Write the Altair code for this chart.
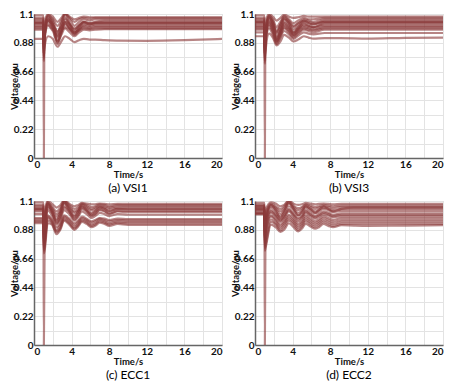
import altair as alt
import pandas as pd

# ---------------- data: time grids and curves ----------------
T_a = [0, 1.0, 1.05, 1.1, 1.5, 2.0, 2.5, 2.9, 3.3, 3.8, 4.3, 4.8, 5.3, 5.9, 6.5, 7.5, 9, 12, 16, 20]
curves_a = [
    [1.03, 1.03, 0.00, 0.97, 1.08, 1.02, 0.95, 1.02, 1.09, 1.03, 0.98, 1.02, 1.04, 1.02, 1.03, 1.03, 1.03, 1.03, 1.03, 1.03],
    [0.91, 0.91, 0.78, 0.84, 0.93, 0.91, 0.85, 0.89, 0.93, 0.91, 0.885, 0.90, 0.91, 0.905, 0.905, 0.90, 0.897, 0.895, 0.90, 0.91],
    [1.06, 1.06, 0.82, 0.95, 1.09, 1.05, 0.96, 1.03, 1.10, 1.06, 1.01, 1.04, 1.06, 1.05, 1.06, 1.06, 1.06, 1.06, 1.06, 1.06],
    [1.05, 1.05, 0.76, 0.90, 1.07, 1.03, 0.88, 0.97, 1.07, 1.02, 0.95, 1.00, 1.04, 1.03, 1.04, 1.05, 1.05, 1.05, 1.05, 1.05],
    [1.04, 1.04, 0.80, 0.93, 1.06, 1.02, 0.92, 0.99, 1.06, 1.02, 0.97, 1.01, 1.04, 1.03, 1.035, 1.04, 1.04, 1.04, 1.04, 1.04],
    [1.02, 1.02, 0.74, 0.88, 1.05, 1.00, 0.87, 0.95, 1.04, 0.99, 0.94, 0.98, 1.02, 1.01, 1.02, 1.02, 1.02, 1.02, 1.02, 1.02],
    [1.00, 1.00, 0.83, 0.94, 1.04, 0.99, 0.93, 0.97, 1.02, 0.99, 0.96, 0.98, 1.00, 0.99, 1.00, 1.00, 1.00, 1.00, 1.00, 1.00],
    [0.99, 0.99, 0.86, 0.95, 1.02, 0.98, 0.94, 0.97, 1.00, 0.98, 0.96, 0.975, 0.99, 0.985, 0.99, 0.99, 0.99, 0.99, 0.99, 0.99],
    [1.07, 1.07, 0.88, 1.00, 1.09, 1.06, 1.01, 1.05, 1.10, 1.07, 1.04, 1.06, 1.07, 1.065, 1.07, 1.07, 1.07, 1.07, 1.07, 1.07],
    [1.01, 1.01, 0.78, 0.91, 1.05, 1.00, 0.90, 0.96, 1.03, 0.99, 0.95, 0.99, 1.01, 1.00, 1.01, 1.01, 1.01, 1.01, 1.01, 1.01],
    [1.03, 1.03, 0.85, 0.96, 1.06, 1.02, 0.97, 1.00, 1.04, 1.02, 0.99, 1.01, 1.03, 1.02, 1.03, 1.03, 1.03, 1.03, 1.03, 1.03],
    [0.98, 0.98, 0.80, 0.90, 1.01, 0.97, 0.89, 0.94, 0.99, 0.96, 0.93, 0.96, 0.98, 0.975, 0.98, 0.985, 0.985, 0.985, 0.985, 0.985],
    [1.09, 1.09, 0.92, 1.03, 1.10, 1.08, 1.04, 1.07, 1.105, 1.08, 1.06, 1.07, 1.08, 1.075, 1.075, 1.075, 1.075, 1.075, 1.075, 1.075],
]

T_b = [0, 1.0, 1.05, 1.1, 1.5, 1.9, 2.3, 2.7, 3.1, 3.6, 4.1, 4.6, 5.2, 5.7, 6.2, 7.4, 9, 12, 16, 20]
curves_b = [
    [1.04, 1.04, 0.00, 0.96, 1.08, 1.03, 0.96, 1.02, 1.07, 1.04, 1.00, 1.03, 1.05, 1.04, 1.03, 1.04, 1.04, 1.04, 1.04, 1.04],
    [0.93, 0.93, 0.72, 0.80, 0.95, 0.92, 0.86, 0.89, 0.94, 0.92, 0.89, 0.905, 0.93, 0.92, 0.912, 0.915, 0.915, 0.912, 0.918, 0.92],
    [1.06, 1.06, 0.80, 0.93, 1.085, 1.05, 0.97, 1.02, 1.08, 1.05, 1.01, 1.03, 1.06, 1.05, 1.04, 1.06, 1.06, 1.06, 1.06, 1.06],
    [1.05, 1.05, 0.76, 0.89, 1.07, 1.03, 0.91, 0.98, 1.06, 1.03, 0.96, 1.00, 1.05, 1.03, 1.02, 1.05, 1.05, 1.05, 1.05, 1.05],
    [1.03, 1.03, 0.74, 0.87, 1.06, 1.01, 0.89, 0.96, 1.04, 1.01, 0.94, 0.98, 1.03, 1.01, 1.00, 1.03, 1.03, 1.03, 1.03, 1.03],
    [1.02, 1.02, 0.78, 0.90, 1.05, 1.00, 0.91, 0.97, 1.03, 1.00, 0.95, 0.99, 1.02, 1.01, 1.00, 1.02, 1.02, 1.02, 1.02, 1.02],
    [1.00, 1.00, 0.80, 0.91, 1.03, 0.98, 0.90, 0.95, 1.01, 0.98, 0.94, 0.97, 1.00, 0.99, 0.98, 1.00, 1.00, 1.00, 1.00, 1.00],
    [0.98, 0.98, 0.77, 0.88, 1.01, 0.96, 0.88, 0.93, 0.99, 0.96, 0.92, 0.95, 0.98, 0.97, 0.96, 0.98, 0.98, 0.98, 0.98, 0.98],
    [0.96, 0.96, 0.75, 0.86, 0.99, 0.94, 0.87, 0.92, 0.97, 0.945, 0.91, 0.935, 0.96, 0.95, 0.945, 0.955, 0.955, 0.955, 0.955, 0.955],
    [1.07, 1.07, 0.86, 0.98, 1.09, 1.06, 1.00, 1.04, 1.085, 1.06, 1.03, 1.05, 1.07, 1.06, 1.06, 1.07, 1.07, 1.07, 1.07, 1.07],
    [1.04, 1.04, 0.82, 0.94, 1.07, 1.03, 0.95, 1.00, 1.06, 1.03, 0.98, 1.01, 1.04, 1.03, 1.02, 1.04, 1.04, 1.04, 1.04, 1.04],
    [0.99, 0.99, 0.79, 0.90, 1.02, 0.97, 0.89, 0.94, 1.00, 0.97, 0.93, 0.96, 0.99, 0.98, 0.975, 0.99, 0.99, 0.99, 0.99, 0.99],
    [1.01, 1.01, 0.84, 0.94, 1.04, 1.00, 0.93, 0.97, 1.02, 0.99, 0.96, 0.985, 1.01, 1.00, 0.995, 1.01, 1.01, 1.01, 1.01, 1.01],
    [1.09, 1.09, 0.95, 1.03, 1.10, 1.08, 1.05, 1.07, 1.095, 1.08, 1.07, 1.075, 1.085, 1.08, 1.08, 1.08, 1.08, 1.08, 1.08, 1.08],
]

T_c = [0, 1.0, 1.05, 1.15, 1.45, 1.9, 2.4, 2.8, 3.2, 3.75, 4.3, 4.7, 5.1, 5.6, 6.1, 6.5, 7.0, 7.5, 8.0, 8.9, 10, 12, 16, 20]
curves_c = [
    [1.04, 1.04, 0.00, 0.95, 1.08, 1.02, 0.95, 1.01, 1.09, 1.03, 0.98, 1.02, 1.06, 1.03, 1.00, 1.02, 1.05, 1.04, 1.02, 1.04, 1.04, 1.04, 1.04, 1.04],
    [0.93, 0.93, 0.70, 0.73, 0.93, 0.92, 0.846, 0.88, 0.95, 0.92, 0.88, 0.905, 0.94, 0.925, 0.90, 0.91, 0.935, 0.925, 0.91, 0.925, 0.918, 0.918, 0.918, 0.918],
    [0.94, 0.94, 0.72, 0.76, 0.95, 0.93, 0.86, 0.89, 0.96, 0.93, 0.89, 0.915, 0.95, 0.935, 0.91, 0.92, 0.945, 0.935, 0.92, 0.935, 0.928, 0.928, 0.928, 0.928],
    [0.95, 0.95, 0.74, 0.78, 0.97, 0.94, 0.87, 0.90, 0.97, 0.94, 0.90, 0.925, 0.96, 0.945, 0.92, 0.93, 0.955, 0.945, 0.93, 0.945, 0.94, 0.94, 0.94, 0.94],
    [0.96, 0.96, 0.76, 0.80, 0.98, 0.95, 0.88, 0.92, 0.98, 0.955, 0.915, 0.94, 0.97, 0.955, 0.935, 0.945, 0.965, 0.955, 0.945, 0.955, 0.952, 0.952, 0.952, 0.952],
    [0.97, 0.97, 0.78, 0.83, 0.99, 0.96, 0.90, 0.93, 0.99, 0.965, 0.93, 0.95, 0.98, 0.965, 0.945, 0.955, 0.97, 0.965, 0.955, 0.965, 0.962, 0.962, 0.962, 0.962],
    [1.00, 1.00, 0.80, 0.86, 1.03, 0.99, 0.92, 0.96, 1.03, 1.00, 0.95, 0.98, 1.02, 1.00, 0.97, 0.985, 1.01, 1.00, 0.985, 1.00, 0.995, 0.995, 0.995, 0.995],
    [1.02, 1.02, 0.82, 0.89, 1.05, 1.01, 0.94, 0.98, 1.05, 1.02, 0.97, 1.00, 1.04, 1.02, 0.99, 1.005, 1.03, 1.02, 1.005, 1.02, 1.015, 1.015, 1.015, 1.015],
    [1.04, 1.04, 0.84, 0.92, 1.07, 1.03, 0.96, 1.00, 1.08, 1.04, 0.99, 1.02, 1.06, 1.04, 1.01, 1.025, 1.05, 1.04, 1.025, 1.04, 1.035, 1.035, 1.035, 1.035],
    [1.05, 1.05, 0.86, 0.94, 1.08, 1.04, 0.98, 1.02, 1.09, 1.05, 1.01, 1.03, 1.07, 1.05, 1.03, 1.04, 1.06, 1.05, 1.04, 1.05, 1.05, 1.05, 1.05, 1.05],
    [1.06, 1.06, 0.88, 0.96, 1.09, 1.05, 1.00, 1.03, 1.10, 1.06, 1.02, 1.04, 1.075, 1.06, 1.04, 1.05, 1.065, 1.06, 1.05, 1.06, 1.06, 1.06, 1.06, 1.06],
    [1.07, 1.07, 0.90, 0.98, 1.09, 1.06, 1.02, 1.05, 1.10, 1.07, 1.04, 1.055, 1.08, 1.07, 1.055, 1.06, 1.075, 1.07, 1.06, 1.07, 1.068, 1.068, 1.068, 1.068],
    [1.03, 1.03, 0.79, 0.87, 1.06, 1.02, 0.93, 0.97, 1.06, 1.02, 0.96, 0.99, 1.05, 1.025, 0.985, 1.00, 1.035, 1.025, 1.00, 1.025, 1.025, 1.025, 1.025, 1.025],
    [1.09, 1.09, 0.95, 1.02, 1.10, 1.08, 1.05, 1.07, 1.105, 1.08, 1.06, 1.07, 1.085, 1.08, 1.075, 1.075, 1.08, 1.078, 1.075, 1.078, 1.078, 1.078, 1.078, 1.078],
]

T_d = [0, 1.0, 1.05, 1.12, 1.7, 2.2, 2.7, 3.1, 3.6, 4.1, 4.6, 5.0, 5.4, 5.9, 6.4, 6.8, 7.3, 7.8, 8.3, 9.2, 10.5, 12, 16, 20]
curves_d = [
    [1.05, 1.05, 0.00, 0.93, 1.07, 1.03, 0.97, 1.02, 1.09, 1.04, 0.99, 1.02, 1.06, 1.04, 1.01, 1.03, 1.06, 1.04, 1.02, 1.04, 1.05, 1.05, 1.05, 1.05],
    [1.00, 1.00, 0.72, 0.74, 0.92, 0.90, 0.864, 0.88, 0.93, 0.90, 0.868, 0.89, 0.925, 0.905, 0.888, 0.90, 0.925, 0.91, 0.90, 0.915, 0.912, 0.91, 0.912, 0.915],
    [1.01, 1.01, 0.74, 0.76, 0.94, 0.92, 0.875, 0.90, 0.95, 0.92, 0.88, 0.905, 0.945, 0.92, 0.90, 0.915, 0.94, 0.925, 0.91, 0.925, 0.925, 0.925, 0.925, 0.925],
    [1.00, 1.00, 0.76, 0.79, 0.96, 0.93, 0.89, 0.92, 0.965, 0.935, 0.895, 0.92, 0.96, 0.935, 0.915, 0.93, 0.955, 0.94, 0.925, 0.94, 0.94, 0.94, 0.94, 0.94],
    [1.02, 1.02, 0.78, 0.82, 0.98, 0.95, 0.905, 0.935, 0.98, 0.95, 0.91, 0.935, 0.975, 0.95, 0.93, 0.945, 0.97, 0.955, 0.94, 0.955, 0.955, 0.955, 0.955, 0.955],
    [1.01, 1.01, 0.80, 0.85, 0.99, 0.96, 0.92, 0.95, 0.995, 0.965, 0.925, 0.95, 0.99, 0.965, 0.945, 0.96, 0.985, 0.97, 0.955, 0.97, 0.97, 0.97, 0.97, 0.97],
    [1.03, 1.03, 0.82, 0.88, 1.01, 0.98, 0.94, 0.97, 1.02, 0.985, 0.945, 0.97, 1.01, 0.985, 0.965, 0.98, 1.00, 0.99, 0.975, 0.985, 0.985, 0.985, 0.985, 0.985],
    [1.04, 1.04, 0.84, 0.91, 1.03, 1.00, 0.96, 0.99, 1.04, 1.005, 0.97, 0.99, 1.03, 1.005, 0.985, 1.00, 1.02, 1.01, 0.995, 1.005, 1.005, 1.005, 1.005, 1.005],
    [1.05, 1.05, 0.86, 0.94, 1.05, 1.02, 0.98, 1.01, 1.06, 1.03, 0.99, 1.01, 1.05, 1.025, 1.005, 1.02, 1.04, 1.03, 1.015, 1.025, 1.025, 1.025, 1.025, 1.025],
    [1.06, 1.06, 0.88, 0.96, 1.06, 1.04, 1.00, 1.03, 1.08, 1.045, 1.01, 1.03, 1.06, 1.04, 1.02, 1.035, 1.05, 1.04, 1.03, 1.04, 1.04, 1.04, 1.04, 1.04],
    [1.065, 1.065, 0.90, 0.98, 1.07, 1.05, 1.02, 1.045, 1.09, 1.055, 1.03, 1.045, 1.07, 1.055, 1.04, 1.05, 1.06, 1.055, 1.045, 1.055, 1.055, 1.055, 1.055, 1.055],
    [1.07, 1.07, 0.92, 1.00, 1.08, 1.06, 1.04, 1.06, 1.10, 1.065, 1.045, 1.055, 1.075, 1.065, 1.055, 1.06, 1.07, 1.065, 1.06, 1.065, 1.065, 1.065, 1.065, 1.065],
    [1.035, 1.035, 0.83, 0.90, 1.02, 0.99, 0.95, 0.98, 1.03, 0.995, 0.96, 0.98, 1.02, 0.995, 0.975, 0.99, 1.01, 1.00, 0.985, 0.995, 0.995, 0.995, 0.995, 0.995],
    [1.085, 1.085, 0.96, 1.03, 1.09, 1.08, 1.06, 1.07, 1.105, 1.08, 1.07, 1.075, 1.085, 1.08, 1.075, 1.078, 1.08, 1.078, 1.075, 1.078, 1.078, 1.078, 1.078, 1.078],
]

captions = ["(a) VSI1", "(b) VSI3", "(c) ECC1", "(d) ECC2"]
y_values = [0, 0.11, 0.22, 0.33, 0.44, 0.55, 0.66, 0.77, 0.88, 0.99, 1.1]
x_values = [0, 2, 4, 6, 8, 10, 12, 14, 16, 18, 20]

LINE = "#8b3a3a"
FONT = "Lato"


def panel(T, curves, caption):
    rows = []
    for ci, c in enumerate(curves):
        for t, v in zip(T, c):
            rows.append({"curve": ci, "t": t, "v": v})
    df = pd.DataFrame(rows)
    return (
        alt.Chart(df)
        .mark_line(color=LINE, strokeWidth=2.2, opacity=0.62, interpolate="monotone", clip=True)
        .encode(
            x=alt.X("t:Q", scale=alt.Scale(domain=[0, 20], nice=False),
                    axis=alt.Axis(values=x_values, title="Time/s",
                                  labelExpr="datum.value % 4 == 0 ? datum.label : ''")),
            y=alt.Y("v:Q", scale=alt.Scale(domain=[0, 1.1], nice=False, zero=False),
                    axis=alt.Axis(values=y_values, title="Voltage/pu",
                                  labelExpr="round(datum.value*100) % 22 == 0 ? format(datum.value, '~g') : ''")),
            detail="curve:N",
        )
        .properties(
            width=188, height=144,
            title=alt.TitleParams(caption, orient="bottom", fontSize=12, fontWeight="normal",
                                  font=FONT, color="#000", offset=4),
        )
    )


charts = [panel(T_a, curves_a, captions[0]), panel(T_b, curves_b, captions[1]),
          panel(T_c, curves_c, captions[2]), panel(T_d, curves_d, captions[3])]

chart = (
    alt.concat(*charts, columns=2, spacing={"row": 43, "column": 33}, bounds="flush")
    .properties(padding={"left": 0, "top": 0, "right": 0, "bottom": 0},
                autosize=alt.AutoSizeParams(type="pad"))
    .configure_view(stroke="#d8d8d8", strokeWidth=1)
    .configure_axis(
        labelFont=FONT, labelFontWeight="bold", labelFontSize=10, labelColor="#111",
        titleFont=FONT, titleFontWeight="bold", titleFontSize=9.5, titleColor="#111",
        grid=True, gridColor="#e3e3e3", gridWidth=1,
        domainColor="#666", domainWidth=1.5, ticks=False, labelPadding=1,
    )
    .configure_axisY(titlePadding=-6)
    .configure_axisX(titlePadding=0)
)

chart.save("out.html", embed_options={"renderer": "svg", "actions": False})
